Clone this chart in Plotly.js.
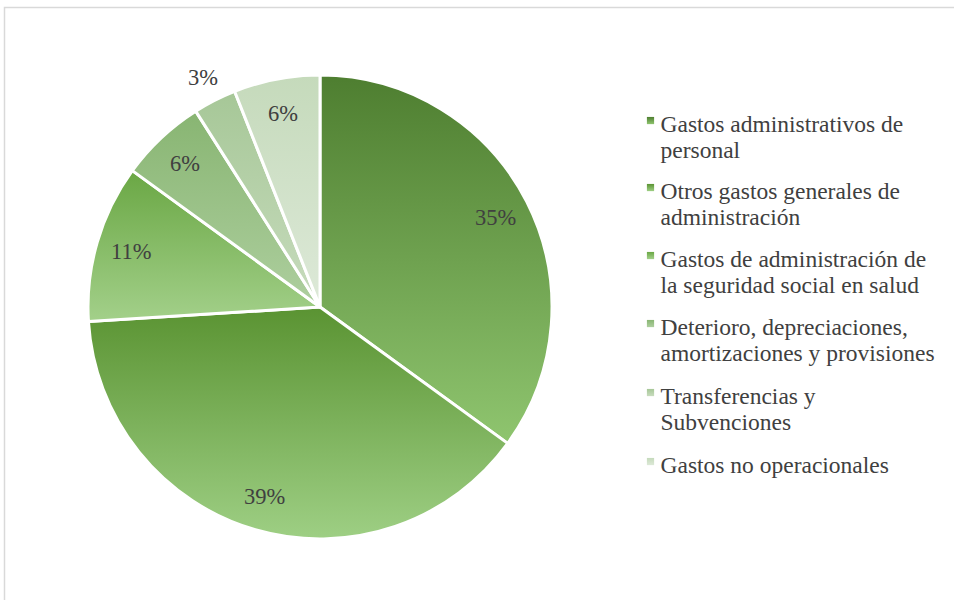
<!DOCTYPE html>
<html>
<head>
<meta charset="utf-8">
<script src="https://cdn.plot.ly/plotly-3.0.1.min.js"></script>
<style>
html,body{margin:0;padding:0;background:#fff;}
#chart{width:954px;height:600px;}
</style>
</head>
<body>
<div id="chart"></div>
<script>
const categories = [
  "Gastos administrativos de<br>personal",
  "Otros gastos generales de<br>administración",
  "Gastos de administración de<br>la seguridad social en salud",
  "Deterioro, depreciaciones,<br>amortizaciones y provisiones",
  "Transferencias y<br>Subvenciones",
  "Gastos no operacionales"
];
const values = [35, 39, 11, 6, 3, 6];
const gradTop = ["#4e7e30", "#5a9332", "#6aa744", "#88b572", "#a6c797", "#c5dabb"];
const gradBottom = ["#8fc56f", "#9ecf84", "#a3d08a", "#aecf9f", "#c8dcbe", "#dde9d8"];
const solid = ["#6fa24f", "#7cb15b", "#87bc67", "#9bc289", "#b7d2ab", "#d1e2ca"];
const labelOutside = [false, false, false, false, true, false];

const FONT = "Liberation Serif";
const W = 954, H = 600;
const cx = 320, cy = 307, R = 232;

const trace = {
  type: "pie",
  labels: categories,
  values: values,
  sort: false,
  direction: "clockwise",
  rotation: 0,
  textinfo: "none",
  marker: {colors: solid, line: {color: "#ffffff", width: 3}},
  domain: {x: [(cx - R) / W, (cx + R) / W], y: [(H - cy - R) / H, (H - cy + R) / H]},
  hoverinfo: "none"
};

// percentage labels positioned from the data (cumulative mid-angles)
const total = values.reduce((a, b) => a + b, 0);
const annotations = [];
let cum = 0;
values.forEach(function (v, i) {
  const mid = (cum + v / 2) / total * 2 * Math.PI;
  cum += v;
  const r = labelOutside[i] ? R * 1.11 : R * 0.85;
  const px = cx + r * Math.sin(mid);
  const py = cy - r * Math.cos(mid);
  annotations.push({
    xref: "paper", yref: "paper",
    x: px / W, y: (H - py) / H,
    xanchor: "center", yanchor: "middle",
    text: Math.round(v / total * 100) + "%",
    showarrow: false,
    font: {family: FONT, size: 22.5, color: "#404040"}
  });
});

const layout = {
  width: W, height: H,
  margin: {l: 0, r: 0, t: 0, b: 0},
  paper_bgcolor: "#ffffff",
  showlegend: true,
  annotations: annotations,
  legend: {
    x: 630.5 / W, xanchor: "left",
    y: (H - 100) / H, yanchor: "top",
    valign: "top",
    font: {family: FONT, size: 23.5, color: "#404040"},
    itemwidth: 30,
    bgcolor: "rgba(0,0,0,0)"
  },
  shapes: [{
    type: "rect", xref: "paper", yref: "paper",
    x0: 4.5 / W, x1: 1.05, y0: -0.05, y1: (H - 7.5) / H,
    line: {color: "#d9d9d9", width: 1.5}, fillcolor: "rgba(0,0,0,0)", layer: "below"
  }]
};

// baselines of the first line of each legend entry in the reference
const legendBaselines = [131.7, 198.7, 266.7, 334.7, 403.7, 472.7];

Plotly.newPlot("chart", [trace], layout, {displayModeBar: false, staticPlot: true}).then(function (gd) {
  const svg = gd.querySelector("svg.main-svg");
  const ns = "http://www.w3.org/2000/svg";
  let defs = svg.querySelector("defs");
  if (!defs) { defs = document.createElementNS(ns, "defs"); svg.insertBefore(defs, svg.firstChild); }
  gradTop.forEach(function (c, i) {
    const g = document.createElementNS(ns, "linearGradient");
    g.setAttribute("id", "sliceGrad" + i);
    g.setAttribute("x1", "0"); g.setAttribute("y1", "0");
    g.setAttribute("x2", "0"); g.setAttribute("y2", "1");
    const s1 = document.createElementNS(ns, "stop");
    s1.setAttribute("offset", "0"); s1.setAttribute("stop-color", c);
    const s2 = document.createElementNS(ns, "stop");
    s2.setAttribute("offset", "1"); s2.setAttribute("stop-color", gradBottom[i]);
    g.appendChild(s1); g.appendChild(s2); defs.appendChild(g);
  });
  gd.querySelectorAll("g.slice path.surface").forEach(function (p, i) {
    p.style.fill = "url(#sliceGrad" + i + ")";
  });
  const sb = gd.querySelector("g.legend .scrollbox");
  if (sb) sb.removeAttribute("clip-path");
  gd.querySelectorAll("g.legend g.traces").forEach(function (t, i) {
    const p = t.querySelector("path.legendpie");
    if (p) {
      p.style.fill = "url(#sliceGrad" + i + ")";
      p.style.strokeWidth = "0";
      p.setAttribute("transform", (p.getAttribute("transform") || "") + " translate(0,-2) scale(0.6)");
    }
    const txt = t.querySelector("text.legendtext");
    if (!txt) return;
    const nx = parseFloat(txt.getAttribute("x")) - 10;
    txt.setAttribute("x", nx);
    txt.querySelectorAll("tspan.line").forEach(function (ln, k) {
      ln.setAttribute("x", nx);
      ln.setAttribute("dy", (k * 1.135) + "em");
    });
    const localY = parseFloat(txt.getAttribute("y")) || 0;
    const pm = t.parentNode.getCTM();
    const m = /translate\(\s*([-\d.e]+)[ ,]*([-\d.e]*)\)/.exec(t.getAttribute("transform") || "");
    const tx = m ? parseFloat(m[1]) : 0;
    const ty = legendBaselines[i] - pm.f - localY;
    t.setAttribute("transform", "translate(" + tx + "," + ty + ")");
  });
});
</script>
</body>
</html>
